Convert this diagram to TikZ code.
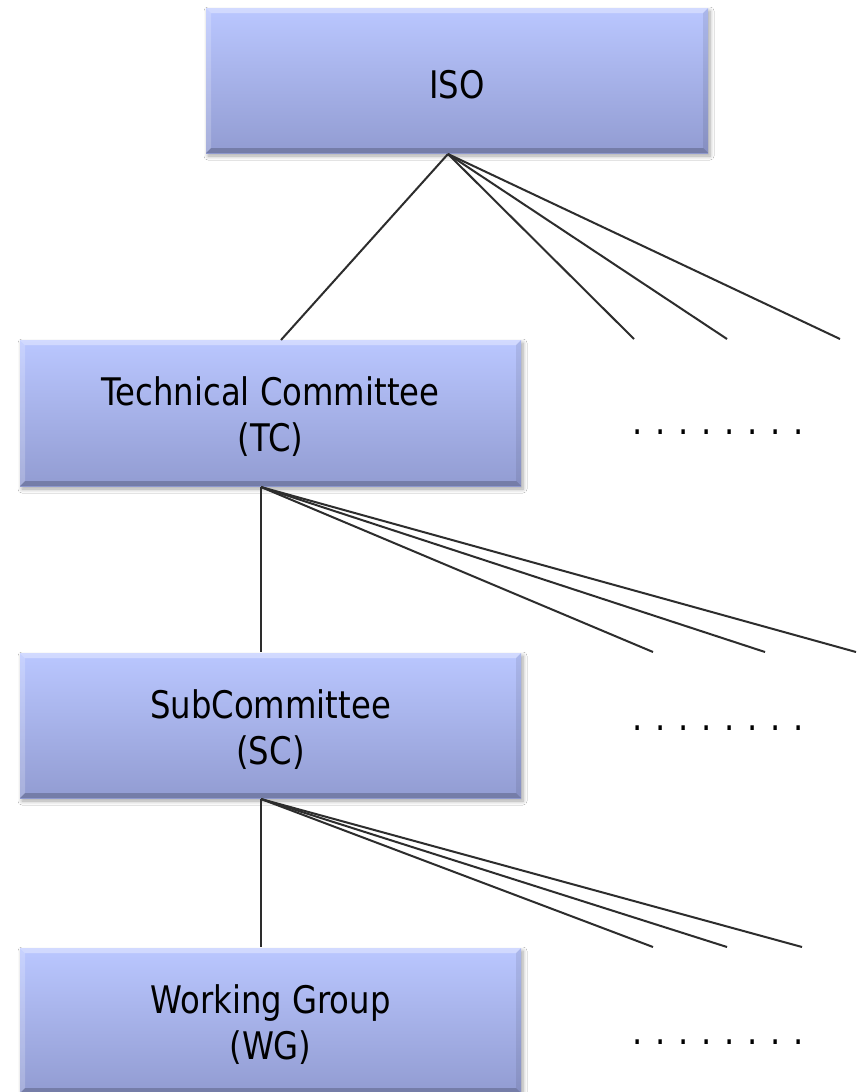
\documentclass[tikz,border=0pt]{standalone}
\usepackage{fontspec}
\setmainfont{DejaVu Sans}[FakeStretch=0.85]
\usetikzlibrary{shadows.blur}
\definecolor{boxtop}{RGB}{186,199,255}
\definecolor{boxbot}{RGB}{146,156,210}
\definecolor{conncol}{RGB}{45,45,45}
\tikzset{
  orgbox/.style={rectangle, minimum width=501pt, minimum height=145pt, inner sep=0pt,
    top color=boxtop, bottom color=boxbot,
    blur shadow={shadow xshift=2pt, shadow yshift=-3pt, shadow blur steps=6, shadow blur radius=4pt, shadow opacity=35},
    path picture={
      \fill[white,opacity=0.35] (path picture bounding box.north west) -- (path picture bounding box.north east) -- ([xshift=-5pt,yshift=-5pt]path picture bounding box.north east) -- ([xshift=5pt,yshift=-5pt]path picture bounding box.north west) -- cycle;
      \fill[white,opacity=0.2] (path picture bounding box.north west) -- (path picture bounding box.south west) -- ([xshift=5pt,yshift=5pt]path picture bounding box.south west) -- ([xshift=5pt,yshift=-5pt]path picture bounding box.north west) -- cycle;
      \fill[black,opacity=0.08] (path picture bounding box.north east) -- (path picture bounding box.south east) -- ([xshift=-5pt,yshift=5pt]path picture bounding box.south east) -- ([xshift=-5pt,yshift=-5pt]path picture bounding box.north east) -- cycle;
      \fill[black,opacity=0.2] (path picture bounding box.south west) -- (path picture bounding box.south east) -- ([xshift=-5pt,yshift=5pt]path picture bounding box.south east) -- ([xshift=5pt,yshift=5pt]path picture bounding box.south west) -- cycle;
    }},
  boxtext/.style={align=center, inner sep=0pt, font=\fontsize{38}{46}\selectfont, yshift=-4pt},
  conn/.style={draw=conncol, line width=2pt},
  dots/.style={inner sep=0pt, anchor=center, font=\fontsize{38}{38}\selectfont}
}
\newcommand{\dotrow}{\makebox[23pt]{.}\makebox[23pt]{.}\makebox[23pt]{.}\makebox[23pt]{.}\makebox[23pt]{.}\makebox[23pt]{.}\makebox[23pt]{.}\makebox[23pt]{.}}
\begin{document}
\begin{tikzpicture}[x=1pt,y=-1pt]
\useasboundingbox (0,0) rectangle (857,1092);
\fill[white] (0,0) rectangle (857,1092);
% boxes
\node[orgbox, minimum width=502pt, label={[boxtext, name=isotext]center:ISO}] (iso) at (457,80.5) {};
\node[orgbox, minimum height=146pt, label={[boxtext, name=tctext]center:{Technical Committee\\(TC)}}] (tc) at (270.5,413) {};
\node[orgbox, label={[boxtext, name=sctext]center:{SubCommittee\\(SC)}}] (sc) at (270.5,725.5) {};
\node[orgbox, label={[boxtext, name=wgtext]center:{Working Group\\(WG)}}] (wg) at (270.5,1020.5) {};
% apexes and free ends
\coordinate (isoA) at (448,154);
\coordinate (tcA) at (261,487);
\coordinate (scA) at (261,799);
\coordinate (tcIn) at (281,340);
\coordinate (scIn) at (261,652);
\coordinate (wgIn) at (261,947);
\coordinate (i1) at (634,339);
\coordinate (i2) at (727,339);
\coordinate (i3) at (840,339);
\coordinate (t1) at (653,652);
\coordinate (t2) at (765,652);
\coordinate (t3) at (856,652);
\coordinate (s1) at (653,947);
\coordinate (s2) at (727,947);
\coordinate (s3) at (802,947);
% connectors
\draw[conn] (isoA) -- (tcIn);
\draw[conn] (isoA) -- (i1);
\draw[conn] (isoA) -- (i2);
\draw[conn] (isoA) -- (i3);
\draw[conn] (tcA) -- (scIn);
\draw[conn] (tcA) -- (t1);
\draw[conn] (tcA) -- (t2);
\draw[conn] (tcA) -- (t3);
\draw[conn] (scA) -- (wgIn);
\draw[conn] (scA) -- (s1);
\draw[conn] (scA) -- (s2);
\draw[conn] (scA) -- (s3);
% dots
\node[dots] (d1) at (718.5,432) {\dotrow};
\node[dots] (d2) at (718.5,728) {\dotrow};
\node[dots] (d3) at (718.5,1042) {\dotrow};
\end{tikzpicture}
\end{document}
